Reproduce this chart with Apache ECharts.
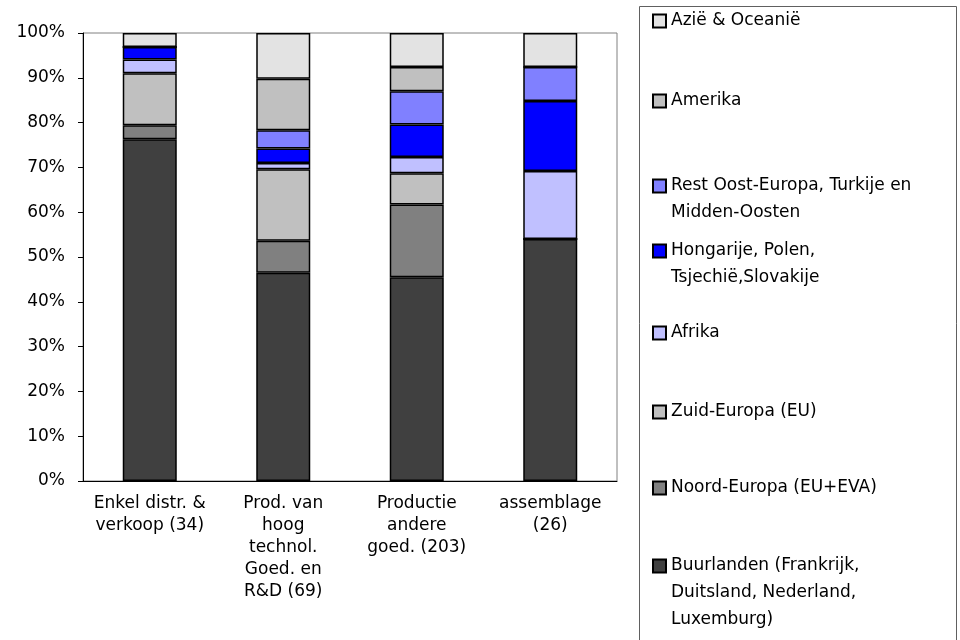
<!DOCTYPE html>
<html><head><meta charset="utf-8">
<script src="https://cdn.jsdelivr.net/npm/echarts@6/dist/echarts.min.js"></script>
<style>html,body{margin:0;padding:0;background:#fff}#c{width:960px;height:640px}</style>
</head><body><div id="c"></div>
<script>
const categories = ['Enkel distr. &\nverkoop (34)', 'Prod. van\nhoog\ntechnol.\nGoed. en\nR&D (69)', 'Productie\nandere\ngoed. (203)', 'assemblage\n(26)'];
const seriesNames = ['Buurlanden (Frankrijk, Duitsland, Nederland, Luxemburg)', 'Noord-Europa (EU+EVA)', 'Zuid-Europa (EU)', 'Afrika', 'Hongarije, Polen, Tsjechië,Slovakije', 'Rest Oost-Europa, Turkije en Midden-Oosten', 'Amerika', 'Azië & Oceanië'];
const legendLabels = ['Buurlanden (Frankrijk,\nDuitsland, Nederland,\nLuxemburg)', 'Noord-Europa (EU+EVA)', 'Zuid-Europa (EU)', 'Afrika', 'Hongarije, Polen,\nTsjechië,Slovakije', 'Rest Oost-Europa, Turkije en\nMidden-Oosten', 'Amerika', 'Azië & Oceanië'];
const buurlanden = [76.3, 46.5, 45.5, 54.0];
const noordEuropa = [3.1, 7.1, 16.2, 0];
const zuidEuropa = [11.6, 16.0, 7.0, 0];
const afrika = [3.1, 1.4, 3.6, 15.2];
const hongarije = [2.8, 3.2, 7.3, 15.6];
const restOostEuropa = [0, 4.1, 7.4, 7.6];
const amerika = [0, 11.5, 5.4, 0];
const azie = [3.1, 10.2, 7.6, 7.6];
const seriesValues = [buurlanden, noordEuropa, zuidEuropa, afrika, hongarije, restOostEuropa, amerika, azie];
const colors = ['#404040', '#808080', '#C0C0C0', '#C0C0FF', '#0000FF', '#8080FF', '#C0C0C0', '#E3E3E3'];

const FONT = 'DejaVu Sans';
const LH = 27;
const legendCenters = [565, 487, 411, 332, 250, 185, 100, 20];

const chart = echarts.init(document.getElementById('c'));
chart.setOption({
  animation: false,
  backgroundColor: '#fff',
  grid: { left: 83, right: 343, top: 33, bottom: 159, show: true, borderColor: '#808080', borderWidth: 1 },
  xAxis: {
    type: 'category', data: categories,
    axisLine: { lineStyle: { color: '#000', width: 1 } },
    axisTick: { length: 6, lineStyle: { color: '#000' } },
    axisLabel: { interval: 0, color: '#000', fontFamily: FONT, fontSize: 17, lineHeight: 22, margin: 12 }
  },
  yAxis: {
    type: 'value', min: 0, max: 100, interval: 10,
    axisLine: { show: true, lineStyle: { color: '#000', width: 1 } },
    axisTick: { show: true, length: 5, lineStyle: { color: '#000' } },
    splitLine: { show: false },
    axisLabel: { formatter: '{value}%', color: '#000', fontFamily: FONT, fontSize: 17, margin: 18 }
  },
  legend: seriesNames.map((n, i) => {
    const lines = legendLabels[i].split('\n').length;
    const h = 13 + LH * (lines - 1);
    return {
      data: [n], left: 652, top: legendCenters[i] - 12.5, padding: 0,
      itemWidth: 13, itemHeight: h, symbolKeepAspect: true,
      icon: 'path://M0,0H13V13H0Z M0,' + h,
      selectedMode: false,
      formatter: () => legendLabels[i],
      textStyle: { fontFamily: FONT, fontSize: 17, color: '#000', lineHeight: LH }
    };
  }),
  graphic: [{ type: 'rect', shape: { x: 639.5, y: 6.5, width: 317, height: 700 }, style: { fill: 'none', stroke: '#606060', lineWidth: 1 }, silent: true }],
  series: seriesNames.map((n, i) => ({
    name: n, type: 'bar', stack: 'total', barWidth: 54,
    data: seriesValues[i],
    itemStyle: { color: colors[i], borderColor: '#000', borderWidth: 1.5 }
  }))
});
</script></body></html>
